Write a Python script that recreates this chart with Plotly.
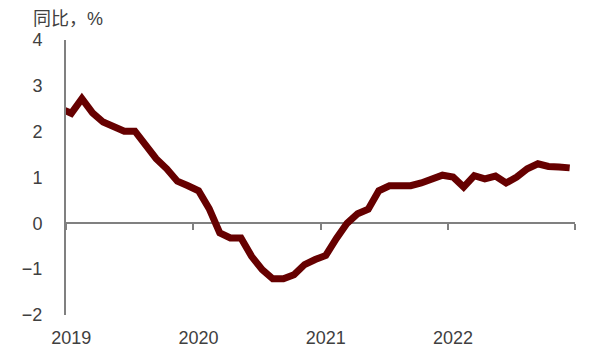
import plotly.graph_objects as go

# Monthly YoY values, Dec 2018 (clipped at the axis) through Dec 2022
month_index = list(range(-1, 48))
values = [
    2.50,
    2.40, 2.72, 2.41, 2.21, 2.11, 2.01, 2.01, 1.72, 1.41, 1.19, 0.92, 0.82,
    0.71, 0.32, -0.21, -0.32, -0.32, -0.72, -1.01, -1.21, -1.21, -1.12, -0.90, -0.79,
    -0.70, -0.33, 0.00, 0.21, 0.31, 0.71, 0.82, 0.82, 0.82, 0.88, 0.97, 1.05,
    1.01, 0.79, 1.04, 0.97, 1.03, 0.88, 1.01, 1.19, 1.30, 1.24, 1.23, 1.21,
]
year_labels = ["2019", "2020", "2021", "2022"]
year_label_pos = [0, 12, 24, 36]
year_tick_pos = [-0.5, 11.5, 23.5, 35.5, 47.5]
y_ticks = [-2, -1, 0, 1, 2, 3, 4]

fig = go.Figure()
fig.add_trace(go.Scatter(
    x=month_index, y=values, mode="lines",
    line=dict(color="#660000", width=7),
    hoverinfo="skip", showlegend=False,
))
# empty trace so the zero-crossing tick axis gets drawn
fig.add_trace(go.Scatter(
    x=[], y=[], xaxis="x2", yaxis="y", mode="lines",
    hoverinfo="skip", showlegend=False,
))

text_color = "#404040"
axis_color = "#808080"
font_family = "Liberation Sans, Arial, sans-serif"

# page body has an 8px margin, so the figure is drawn 8px in from the window corner
fig.update_layout(
    width=590, height=348,
    margin=dict(l=58, r=23, t=32, b=41),
    paper_bgcolor="white", plot_bgcolor="white",
    showlegend=False,
    font=dict(family=font_family, size=18, color=text_color),
    xaxis=dict(
        range=[-0.5, 47.5], showgrid=False, zeroline=False, showline=False,
        automargin=False,
        ticks="", tickvals=year_label_pos, ticktext=year_labels,
        tickfont=dict(size=18, color=text_color), ticklabelstandoff=10,
    ),
    xaxis2=dict(
        range=[-0.5, 47.5], overlaying="x", anchor="free", position=1/3,
        side="bottom", showgrid=False, zeroline=False, showline=False,
        automargin=False,
        ticks="outside", ticklen=6, tickwidth=2, tickcolor=axis_color,
        tickvals=year_tick_pos, showticklabels=False,
    ),
    yaxis=dict(
        range=[-2, 4], showgrid=False, zeroline=True,
        zerolinecolor=axis_color, zerolinewidth=2,
        showline=True, linecolor=axis_color, linewidth=2,
        automargin=False,
        ticks="", tickvals=y_ticks, tickfont=dict(size=18, color=text_color),
        ticklabelstandoff=18,
    ),
    annotations=[dict(
        text="同比，%", xref="paper", yref="paper",
        x=(24 - 58) / 509, y=1 + (32 - 10.5) / 275,
        xanchor="left", yanchor="middle", showarrow=False, borderpad=0,
        font=dict(family="Liberation Sans, Noto Sans CJK SC, sans-serif", size=18,
                  color=text_color),
    )],
)

fig.write_html("out.html")
